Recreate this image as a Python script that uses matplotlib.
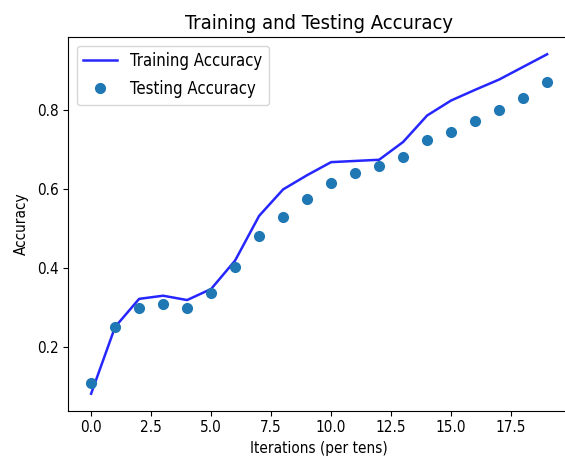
import numpy as np
import matplotlib
matplotlib.use("Agg")
import matplotlib.pyplot as plt

# accuracy per 10 iterations
iterations = list(range(20))
train_acc = [0.083, 0.252, 0.323, 0.331, 0.320, 0.348, 0.420, 0.533, 0.600, 0.636,
             0.669, 0.672, 0.675, 0.720, 0.787, 0.825, 0.852, 0.878, 0.910, 0.942]
test_acc = [0.111, 0.251, 0.299, 0.311, 0.299, 0.338, 0.403, 0.481, 0.530, 0.576,
            0.616, 0.641, 0.659, 0.681, 0.724, 0.745, 0.773, 0.802, 0.832, 0.872]

plt.rcParams['font.family'] = ['DejaVu Sans']
plt.rcParams['font.stretch'] = 'condensed'
plt.rcParams['xtick.labelsize'] = 11
plt.rcParams['ytick.labelsize'] = 11
plt.rcParams['axes.labelsize'] = 11

fig = plt.figure(figsize=(5.65, 4.66), dpi=100)
# the original picture is cropped on the right, so the right spine is off the edge
ax = fig.add_axes([0.1209, 0.1187, 0.8878, 0.8013])
ax.spines['right'].set_visible(False)

ax.plot(iterations, train_acc, color='blue', linewidth=1.8, alpha=0.85, label='Training Accuracy')
ax.plot(iterations, test_acc, 'o', color='#1f77b4', markersize=7, label='Testing Accuracy')

ax.set_title('Training and Testing Accuracy', fontsize=14.5)
ax.set_xlabel('Iterations (per tens)')
ax.set_ylabel('Accuracy', labelpad=6)
ax.set_xticks([0, 2.5, 5, 7.5, 10, 12.5, 15, 17.5])
ax.set_yticks([0.2, 0.4, 0.6, 0.8])
ax.legend(loc='upper left', fontsize=12, labelspacing=0.6)

fig.savefig('out.png', dpi=100)
